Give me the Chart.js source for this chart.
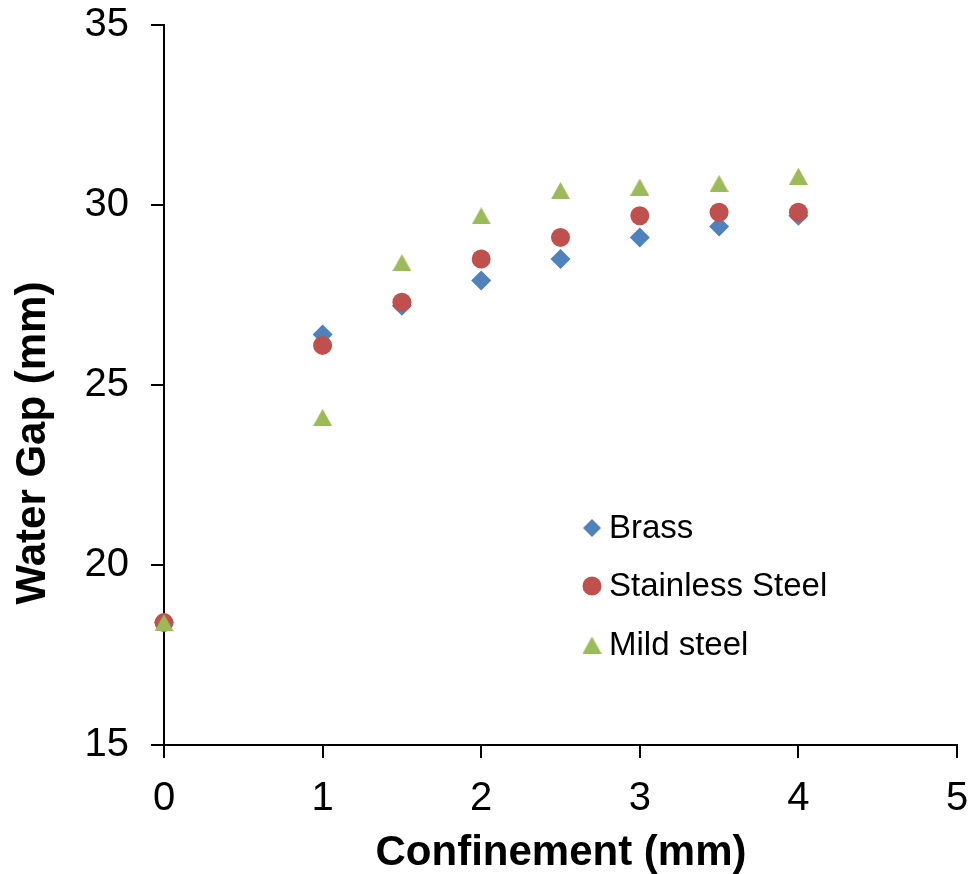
<!DOCTYPE html>
<html>
  <head>
    <title>Water Gap vs Confinement</title>
    <script src="https://cdn.jsdelivr.net/npm/chart.js"></script>
    <style>
      html,
      body {
        margin: 0;
        padding: 0;
        background: #fff;
      }
      #wrap {
        width: 969px;
        height: 874px;
      }
    </style>
  </head>
  <body>
    <div id="wrap"><canvas id="gapChart" width="969" height="874"></canvas></div>
    <script>
      // values
      const confinement = [0, 1, 1.5, 2, 2.5, 3, 3.5, 4];
      const brass = [18.4, 26.4, 27.2, 27.9, 28.5, 29.1, 29.4, 29.7];
      const stainless = [18.4, 26.1, 27.3, 28.5, 29.1, 29.7, 29.8, 29.8];
      const mild = [18.4, 24.1, 28.4, 29.7, 30.4, 30.5, 30.6, 30.8];
      const yTicks = [15, 20, 25, 30, 35];
      const xTicks = [0, 1, 2, 3, 4, 5];

      const FONT = "Arial, 'Liberation Sans', sans-serif";

      function pts(ys) {
        return confinement.map((x, i) => ({ x: x, y: ys[i] }));
      }

      // Excel-style triangle marker, centred on its box (chart.js centres on the circumcentre)
      function triangleMarker(color, w, h) {
        const c = document.createElement("canvas");
        c.width = w;
        c.height = h;
        const g = c.getContext("2d");
        g.fillStyle = color;
        g.beginPath();
        g.moveTo(w / 2, 0);
        g.lineTo(w, h);
        g.lineTo(0, h);
        g.closePath();
        g.fill();
        return c;
      }
      const tri = triangleMarker("#9BBB59", 19, 17);

      // legend sits inside the plot, axis titles drawn by hand
      const extras = {
        id: "extras",
        afterDraw(chart) {
          const ctx = chart.ctx;
          const area = chart.chartArea;
          ctx.save();

          // legend
          const lx = area.left + 428;
          const rows = [area.top + 503, area.top + 561, area.top + 620];
          chart.data.datasets.forEach((ds, i) => {
            const y = rows[i];
            ctx.fillStyle = ds.backgroundColor;
            ctx.strokeStyle = ds.backgroundColor;
            Chart.helpers.drawPoint(
              ctx,
              { pointStyle: ds.pointStyle, radius: ds.legendRadius, borderWidth: 0, rotation: 0 },
              lx,
              y
            );
            ctx.fillStyle = "#000";
            ctx.font = "33px " + FONT;
            ctx.textAlign = "left";
            ctx.textBaseline = "middle";
            ctx.fillText(ds.label, lx + 17, y + 1);
          });

          // axis titles
          ctx.fillStyle = "#000";
          ctx.font = "bold 42px " + FONT;
          ctx.textAlign = "center";
          ctx.textBaseline = "middle";
          ctx.fillText("Confinement (mm)", 561, 853);
          ctx.translate(33, 443);
          ctx.rotate(-Math.PI / 2);
          ctx.fillText("Water Gap (mm)", 0, 0);
          ctx.restore();
        },
      };

      new Chart(document.getElementById("gapChart"), {
        type: "scatter",
        data: {
          datasets: [
            {
              label: "Brass",
              data: pts(brass),
              pointStyle: "rectRot",
              pointRadius: 10,
              legendRadius: 9,
              backgroundColor: "#4F81BD",
              borderColor: "#4F81BD",
              borderWidth: 0,
              clip: false,
              order: 3,
            },
            {
              label: "Stainless Steel",
              data: pts(stainless),
              pointStyle: "circle",
              pointRadius: 9.5,
              legendRadius: 9.5,
              backgroundColor: "#C0504D",
              borderColor: "#C0504D",
              borderWidth: 0,
              clip: false,
              order: 2,
            },
            {
              label: "Mild steel",
              data: pts(mild),
              pointStyle: tri,
              pointRadius: 10,
              legendRadius: 10,
              backgroundColor: "#9BBB59",
              borderColor: "#9BBB59",
              borderWidth: 0,
              clip: false,
              order: 1,
            },
          ],
        },
        options: {
          responsive: false,
          animation: false,
          layout: { padding: { top: 25, right: 12, left: 0, bottom: 0 } },
          plugins: {
            legend: { display: false },
            tooltip: { enabled: false },
          },
          scales: {
            x: {
              type: "linear",
              min: 0,
              max: 5,
              afterBuildTicks: (s) => {
                s.ticks = xTicks.map((v) => ({ value: v }));
              },
              afterFit: (s) => {
                s.height = 129;
                s.paddingLeft = 0;
                s.paddingRight = 0;
              },
              border: { color: "#000", width: 2 },
              grid: {
                drawOnChartArea: false,
                tickLength: 13,
                color: "#000",
                lineWidth: 2,
              },
              ticks: {
                color: "#000",
                padding: 17,
                font: { family: FONT, size: 40 },
              },
            },
            y: {
              min: 15,
              max: 35,
              afterBuildTicks: (s) => {
                s.ticks = yTicks.map((v) => ({ value: v }));
              },
              afterFit: (s) => {
                s.width = 164;
                s.paddingTop = 0;
                s.paddingBottom = 0;
              },
              border: { color: "#000", width: 2 },
              grid: {
                drawOnChartArea: false,
                tickLength: 13,
                color: "#000",
                lineWidth: 2,
              },
              ticks: {
                color: "#000",
                padding: 22,
                font: { family: FONT, size: 40 },
              },
            },
          },
        },
        plugins: [extras],
      });
    </script>
  </body>
</html>
